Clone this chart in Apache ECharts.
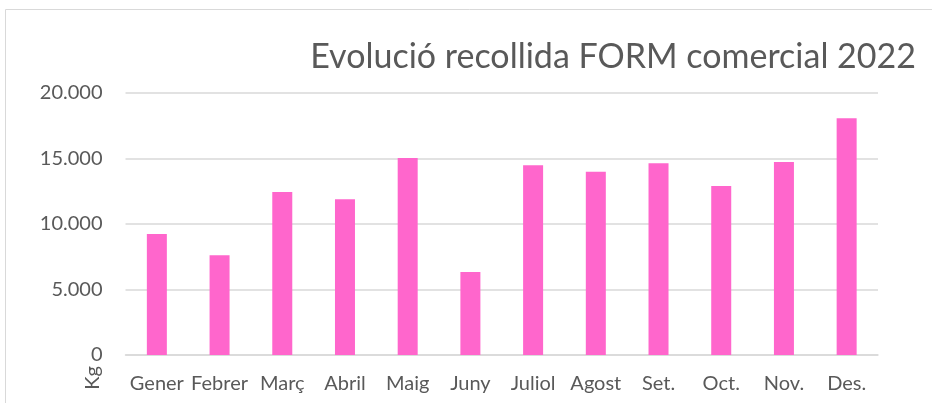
<!DOCTYPE html>
<html>
<head>
<meta charset="utf-8">
<script src="https://cdn.jsdelivr.net/npm/echarts@6/dist/echarts.min.js"></script>
<style>
  html, body { margin: 0; padding: 0; background: #fff; }
  #chart { width: 932px; height: 403px; }
</style>
</head>
<body>
<div id="chart"></div>
<script>
// dades llegides de la imatge (Kg)
var mesos = ['Gener', 'Febrer', 'Març', 'Abril', 'Maig', 'Juny', 'Juliol', 'Agost', 'Set.', 'Oct.', 'Nov.', 'Des.'];
var kg = [9230, 7600, 12430, 11870, 15020, 6330, 14460, 13980, 14620, 12890, 14720, 18050];
var titol = 'Evolució recollida FORM comercial 2022';

var font = 'Lato, "Open Sans", sans-serif';
var myChart = echarts.init(document.getElementById('chart'));

function puntMilers(v) {
    return String(v).replace(/\B(?=(\d{3})+(?!\d))/g, '.');
}

myChart.setOption({
    animation: false,
    textStyle: { fontFamily: font },
    title: {
        text: titol,
        right: 11,
        top: 35,
        textStyle: { fontFamily: font, fontSize: 34, fontWeight: 'normal', color: '#595959' }
    },
    graphic: [
        {
            type: 'rect',
            shape: { x: 5.5, y: 9.5, width: 940, height: 420 },
            style: { fill: 'none', stroke: '#d9d9d9', lineWidth: 1 },
            silent: true
        },
        {
            type: 'text',
            x: 93, y: 378,
            rotation: Math.PI / 2,
            style: { text: 'Kg', fontFamily: font, fontSize: 20, fill: '#595959', align: 'center', verticalAlign: 'middle' }
        }
    ],
    grid: { left: 125.5, right: 54, top: 92.7, bottom: 48 },
    xAxis: {
        type: 'category',
        data: mesos,
        axisTick: { show: false },
        axisLine: { lineStyle: { color: '#d9d9d9', width: 1.5 } },
        axisLabel: { color: '#595959', fontSize: 20, margin: 19, interval: 0 }
    },
    yAxis: {
        type: 'value',
        min: 0,
        max: 20000,
        interval: 5000,
        axisLine: { show: false },
        axisTick: { show: false },
        splitLine: { lineStyle: { color: '#d9d9d9', width: 1.5 } },
        axisLabel: { color: '#595959', fontSize: 20, margin: 23, formatter: puntMilers }
    },
    series: [{
        type: 'bar',
        data: kg,
        barWidth: 20,
        itemStyle: { color: '#ff66cc' }
    }]
});
</script>
</body>
</html>
